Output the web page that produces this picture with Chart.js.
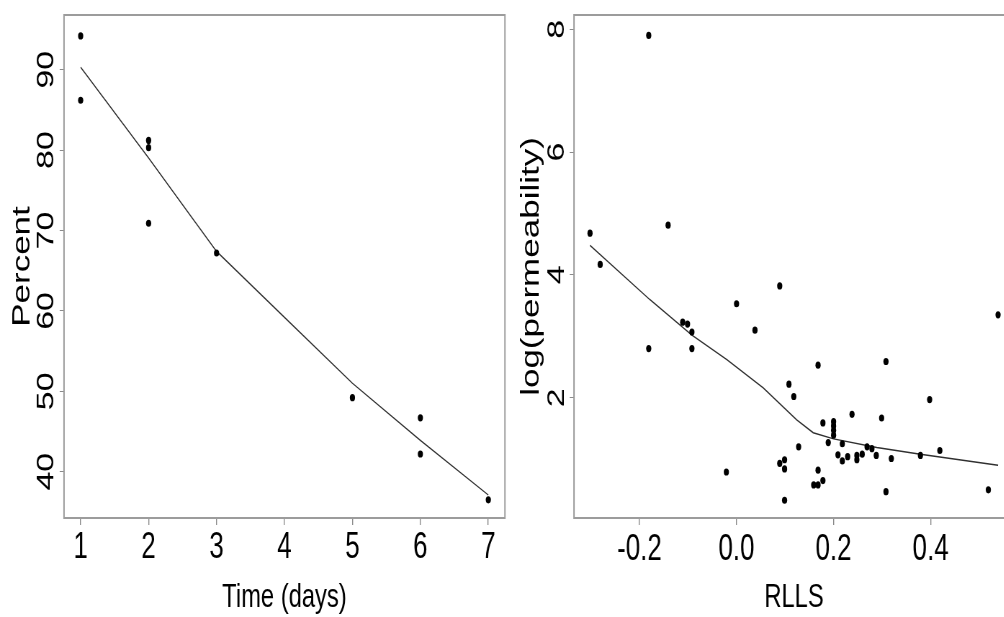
<!DOCTYPE html>
<html>
<head>
<meta charset="utf-8">
<script src="https://cdn.jsdelivr.net/npm/chart.js@4.4.1/dist/chart.umd.min.js"></script>
<style>
  html, body { margin: 0; padding: 0; background: #fff; }
  #wrap { position: relative; width: 1004px; height: 617px; overflow: hidden; background: #fff; }
  canvas { position: absolute; top: 0; transform: scaleX(0.72); transform-origin: 0 0; }
  #left { left: 0; }
  #right { left: 512px; }
</style>
</head>
<body>
<div id="wrap">
  <canvas id="left" width="711" height="617"></canvas>
  <canvas id="right" width="739" height="617"></canvas>
</div>
<script>
// Panel 1: percent remaining over time
const timeDays = [1, 1, 2, 2, 2, 3, 5, 6, 6, 7];
const percent = [94.2, 86.2, 81.2, 80.3, 70.9, 67.2, 49.2, 46.7, 42.2, 36.5];
const timeFitX = [1, 2, 3, 4, 5, 6, 7];
const percentFit = [90.3, 79.0, 67.4, 59.2, 51.0, 43.9, 37.1];
const timeTicks = [1, 2, 3, 4, 5, 6, 7];
const percentTicks = [40, 50, 60, 70, 80, 90];

// Panel 2: log(permeability) against RLLS
const rlls = [-0.302, -0.281, -0.181, -0.141, 0.000, 0.089, 0.539, -0.181, -0.111, -0.101,
  -0.092, -0.092, 0.038, 0.168, 0.308, 0.108, 0.118, 0.398, 0.238, 0.299,
  0.178, 0.200, 0.200, 0.200, 0.200, 0.189, 0.128, 0.218, 0.269, 0.279,
  0.419, 0.209, 0.229, 0.218, 0.248, 0.248, 0.259, 0.288, 0.319, 0.379,
  0.089, 0.099, 0.099, -0.021, 0.168, 0.178, 0.159, 0.168, 0.099, 0.308, 0.519];
const logPerm = [4.68, 4.17, 7.90, 4.81, 3.53, 3.82, 3.35, 2.80, 3.23, 3.20,
  3.07, 2.80, 3.10, 2.53, 2.59, 2.22, 2.02, 1.97, 1.73, 1.67,
  1.59, 1.61, 1.54, 1.47, 1.39, 1.27, 1.20, 1.25, 1.20, 1.17,
  1.14, 1.07, 1.04, 0.97, 1.06, 0.99, 1.08, 1.06, 1.01, 1.06,
  0.93, 0.99, 0.84, 0.79, 0.82, 0.65, 0.58, 0.58, 0.33, 0.47, 0.50];
const rllsFitX = [-0.302, -0.179, -0.092, -0.020, 0.055, 0.124, 0.158, 0.200, 0.289, 0.379, 0.539];
const logPermFit = [4.48, 3.60, 3.02, 2.62, 2.16, 1.64, 1.43, 1.33, 1.19, 1.08, 0.90];
const rllsTicks = [-0.2, 0.0, 0.2, 0.4];
const logPermTicks = [2, 4, 6, 8];

const FONT = "'Liberation Sans', Arial, sans-serif";

// grey frame around the plotting region
const frameBox = {
  id: 'frameBox',
  beforeDatasetsDraw(chart) {
    const { ctx, chartArea: a } = chart;
    ctx.save();
    ctx.strokeStyle = '#9c9c9c';
    ctx.lineWidth = 2;
    ctx.strokeRect(a.left, a.top, a.right - a.left, a.bottom - a.top);
    ctx.restore();
  }
};

function pairs(xs, ys) {
  return xs.map((x, i) => ({ x: x, y: ys[i] }));
}

function makePanel(id, cfg) {
  return new Chart(document.getElementById(id), {
    type: 'scatter',
    data: {
      datasets: [
        {
          data: pairs(cfg.px, cfg.py),
          pointRadius: 3.6,
          pointBackgroundColor: '#000',
          pointBorderWidth: 0,
          showLine: false
        },
        {
          data: pairs(cfg.fx, cfg.fy),
          showLine: true,
          pointRadius: 0,
          borderColor: '#303030',
          borderWidth: 1.4,
          tension: 0,
          fill: false
        }
      ]
    },
    options: {
      responsive: false,
      animation: false,
      devicePixelRatio: 1,
      layout: { padding: { left: 0, right: cfg.padRight, top: 15, bottom: 0 } },
      plugins: { legend: { display: false }, tooltip: { enabled: false } },
      scales: {
        x: {
          type: 'linear',
          min: cfg.xMin,
          max: cfg.xMax,
          afterBuildTicks: s => { s.ticks = cfg.xTicks.map(v => ({ value: v })); },
          afterFit: s => { s.height = 99; s.paddingLeft = 0; s.paddingRight = 0; },
          border: { display: false },
          grid: { display: true, drawOnChartArea: false, drawTicks: true, tickLength: 7, color: '#8a8a8a', lineWidth: 1.4 },
          ticks: {
            font: { family: FONT, size: 36, lineHeight: 1 },
            color: '#000',
            padding: cfg.xTickPad,
            maxRotation: 0,
            autoSkip: false,
            callback: cfg.xFmt
          },
          title: {
            display: true,
            text: cfg.xTitle,
            color: '#000',
            font: { family: FONT, size: 33, lineHeight: 1 },
            padding: { top: 0, bottom: 3 }
          }
        },
        y: {
          type: 'linear',
          min: cfg.yMin,
          max: cfg.yMax,
          afterBuildTicks: s => { s.ticks = cfg.yTicks.map(v => ({ value: v })); },
          afterFit: s => { s.width = cfg.yWidth; s.paddingTop = 0; s.paddingBottom = 0; },
          border: { display: false },
          grid: { display: true, drawOnChartArea: false, drawTicks: true, tickLength: 6, color: '#8a8a8a', lineWidth: 1 },
          ticks: {
            font: { family: FONT, size: 34, lineHeight: 1 },
            color: '#000',
            padding: cfg.yTickPad,
            minRotation: 90,
            maxRotation: 90,
            crossAlign: 'center',
            autoSkip: false
          },
          title: {
            display: true,
            text: cfg.yTitle,
            color: '#000',
            font: { family: FONT, size: 35, lineHeight: 1 },
            padding: { top: cfg.yTitlePad, bottom: 0 }
          }
        }
      }
    },
    plugins: [frameBox]
  });
}

makePanel('left', {
  px: timeDays, py: percent, fx: timeFitX, fy: percentFit,
  xMin: 0.755, xMax: 7.245, yMin: 34.24, yMax: 96.8,
  xTicks: timeTicks, yTicks: percentTicks,
  xFmt: v => String(v),
  xTitle: 'Time (days)', yTitle: 'Percent',
  padRight: 9.7, yWidth: 88.9,
  xTickPad: 5, yTickPad: -0.9, yTitlePad: 13.5
});

makePanel('right', {
  px: rlls, py: logPerm, fx: rllsFitX, fy: logPermFit,
  xMin: -0.335, xMax: 0.572, yMin: 0.041, yMax: 8.233,
  xTicks: rllsTicks, yTicks: logPermTicks,
  xFmt: v => Number(v).toFixed(1),
  xTitle: 'RLLS', yTitle: 'log(permeability)',
  padRight: 41.7, yWidth: 86.1,
  xTickPad: 7, yTickPad: 8.5, yTitlePad: 9.9
});
</script>
</body>
</html>
